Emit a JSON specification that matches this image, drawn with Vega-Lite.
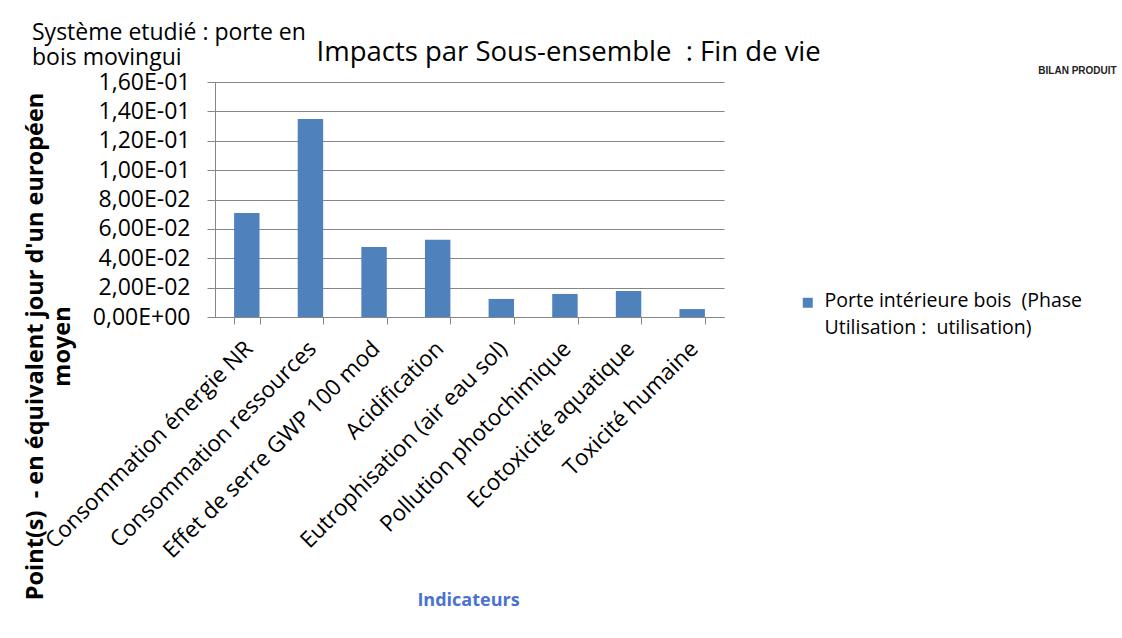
{
  "$schema": "https://vega.github.io/schema/vega-lite/v6.json",
  "width": 509,
  "height": 235,
  "autosize": {"type": "none"},
  "padding": {"left": 215, "top": 82, "right": 398, "bottom": 321},
  "background": "white",
  "config": {"view": {"stroke": null}},
  "title": {
    "text": ["Système etudié : porte en", "bois movingui"],
    "anchor": "start",
    "frame": "group",
    "dx": -183,
    "dy": 50,
    "offset": 0,
    "baseline": "alphabetic",
    "font": "Open Sans",
    "fontSize": 23,
    "fontWeight": "normal",
    "color": "#000000",
    "lineHeight": 25
  },
  "data": {
    "values": [
      {"indicateur": "Consommation énergie NR", "valeur": 0.0708, "serie": "Porte intérieure bois  (Phase Utilisation :  utilisation)"},
      {"indicateur": "Consommation ressources", "valeur": 0.1348, "serie": "Porte intérieure bois  (Phase Utilisation :  utilisation)"},
      {"indicateur": "Effet de serre GWP 100 mod", "valeur": 0.0477, "serie": "Porte intérieure bois  (Phase Utilisation :  utilisation)"},
      {"indicateur": "Acidification", "valeur": 0.0526, "serie": "Porte intérieure bois  (Phase Utilisation :  utilisation)"},
      {"indicateur": "Eutrophisation (air eau sol)", "valeur": 0.0123, "serie": "Porte intérieure bois  (Phase Utilisation :  utilisation)"},
      {"indicateur": "Pollution photochimique", "valeur": 0.0157, "serie": "Porte intérieure bois  (Phase Utilisation :  utilisation)"},
      {"indicateur": "Ecotoxicité aquatique", "valeur": 0.0177, "serie": "Porte intérieure bois  (Phase Utilisation :  utilisation)"},
      {"indicateur": "Toxicité humaine", "valeur": 0.0054, "serie": "Porte intérieure bois  (Phase Utilisation :  utilisation)"}
    ]
  },
  "layer": [
    {
      "mark": {"type": "bar"},
      "encoding": {
        "x": {
          "field": "indicateur",
          "type": "nominal",
          "sort": null,
          "scale": {"paddingInner": 0.6, "paddingOuter": 0.3},
          "axis": {
            "orient": "bottom",
            "labelAngle": -45,
            "labelAlign": "right",
            "labelBaseline": "top",
            "labelPadding": 13,
            "labelOffset": -6,
            "labelFont": "Open Sans",
            "labelFontSize": 22.5,
            "labelColor": "#000000",
            "labelLimit": 0,
            "labelOverlap": false,
            "tickBand": "extent",
            "tickSize": 7,
            "tickColor": "#868686",
            "domainColor": "#868686",
            "grid": false,
            "title": "Indicateurs",
            "titleFont": "Open Sans",
            "titleFontWeight": "bold",
            "titleFontSize": 18,
            "titleColor": "#4a72d0",
            "titleX": 253,
            "titleY": 283,
            "titleAlign": "center",
            "titleBaseline": "middle"
          }
        },
        "y": {
          "field": "valeur",
          "type": "quantitative",
          "scale": {"domain": [0, 0.16]},
          "axis": {
            "orient": "left",
            "values": [0, 0.02, 0.04, 0.06, 0.08, 0.1, 0.12, 0.14, 0.16],
            "labelExpr": "replace(replace(replace(format(datum.value, '.2e'), '.', ','), 'e-', 'E-0'), 'e+', 'E+0')",
            "labelFont": "Open Sans",
            "labelFontSize": 23,
            "labelColor": "#000000",
            "labelPadding": 17,
            "tickSize": 8,
            "tickColor": "#868686",
            "domainColor": "#868686",
            "grid": true,
            "gridColor": "#868686",
            "title": ["Point(s) \u00a0- en équivalent jour d'un européen", "moyen"],
            "titleFont": "Open Sans",
            "titleFontWeight": "bold",
            "titleFontSize": 23.5,
            "titleColor": "#000000",
            "titleAngle": -90,
            "titleX": -173,
            "titleY": 264,
            "titleAlign": "center",
            "titleBaseline": "alphabetic",
            "titleLineHeight": 27
          }
        },
        "color": {
          "field": "serie",
          "type": "nominal",
          "scale": {"range": ["#4f81bd"]},
          "legend": {
            "orient": "none",
            "legendX": 583,
            "legendY": 215,
            "padding": 0,
            "title": null,
            "symbolType": "M-1,-1.8H1V0.2H-1Z",
            "symbolSize": 100,
            "symbolStrokeWidth": 0,
            "symbolFillColor": "#4f81bd",
            "labelExpr": "['Porte intérieure bois \u00a0(Phase', 'Utilisation : \u00a0utilisation)']",
            "labelFont": "Open Sans",
            "labelFontSize": 19.5,
            "labelColor": "#000000",
            "labelLimit": 0,
            "labelBaseline": "alphabetic",
            "labelOffset": 7,
            "encode": {"labels": {"update": {"lineHeight": {"value": 27}}}}
          }
        }
      }
    },
    {
      "mark": {"type": "bar", "opacity": 0},
      "encoding": {
        "x": {
          "field": "indicateur",
          "type": "nominal",
          "sort": null,
          "axis": {
            "orient": "top",
            "labels": false,
            "ticks": false,
            "domain": false,
            "grid": false,
            "title": "Impacts par Sous-ensemble \u00a0: Fin de vie",
            "titleX": 101,
            "titleY": -22,
            "titleAlign": "left",
            "titleBaseline": "alphabetic",
            "titleFont": "Open Sans",
            "titleFontSize": 27.5,
            "titleFontWeight": "normal",
            "titleColor": "#000000"
          }
        },
        "y": {
          "field": "valeur",
          "type": "quantitative",
          "axis": {
            "orient": "right",
            "labels": false,
            "ticks": false,
            "domain": false,
            "grid": false,
            "title": "BILAN PRODUIT",
            "titleAngle": 0,
            "titleX": 353,
            "titleY": -12,
            "titleAlign": "center",
            "titleBaseline": "middle",
            "titleFont": "Liberation Sans",
            "titleFontSize": 10,
            "titleFontWeight": "bold",
            "titleColor": "#222222"
          }
        }
      }
    }
  ],
  "resolve": {"axis": {"x": "independent", "y": "independent"}}
}
